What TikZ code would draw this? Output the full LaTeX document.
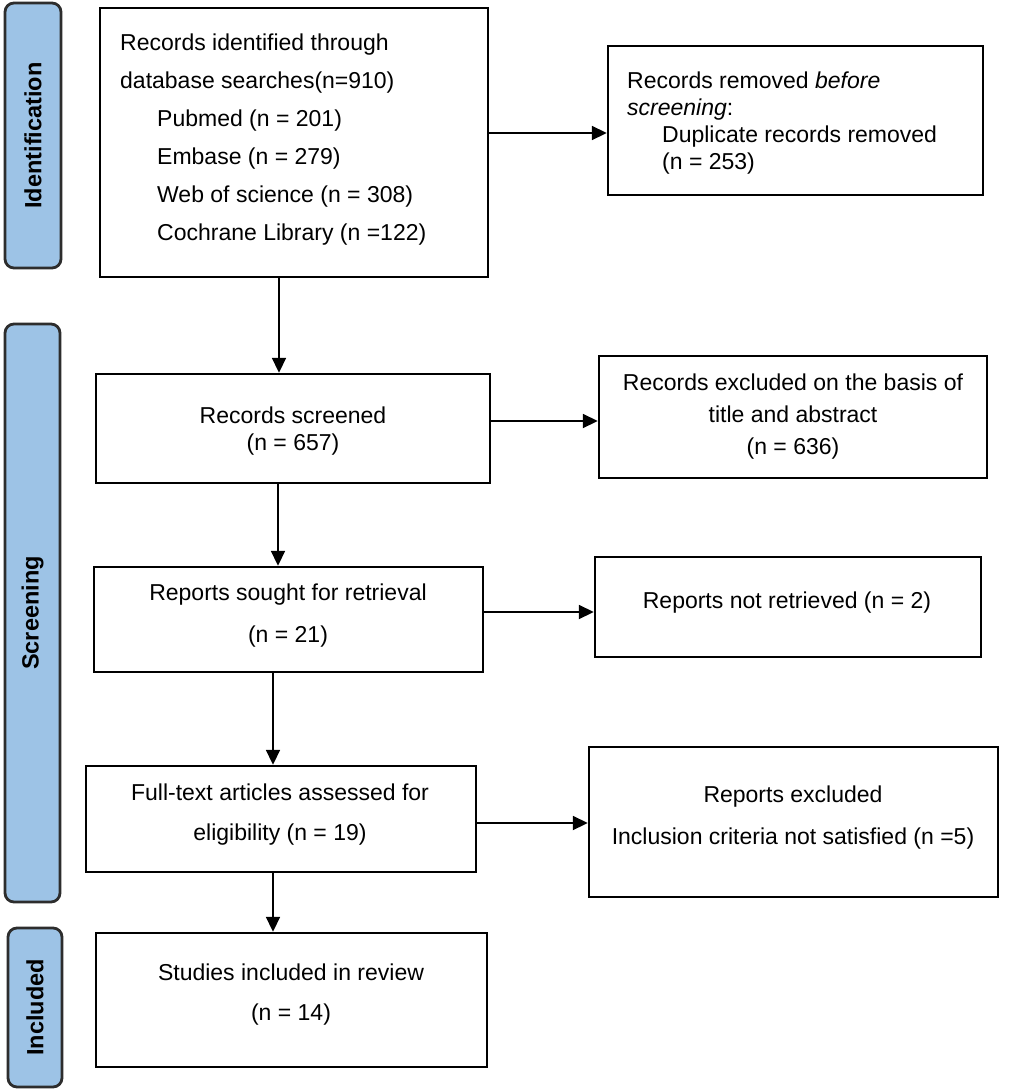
\documentclass[tikz,border=0pt]{standalone}
\usepackage{fontspec}
\setmainfont{Liberation Sans}
\usetikzlibrary{arrows.meta}
\definecolor{barfill}{RGB}{157,195,230}
\definecolor{barline}{RGB}{45,45,45}
\begin{document}
\begin{tikzpicture}[x=1pt,y=-1pt,
  box/.style={draw=black,line width=2.4pt,rectangle,inner sep=0pt},
  txt/.style={inner sep=0pt},
  phase/.style={draw=barline,fill=barfill,line width=2.8pt,rounded corners=9pt,inner sep=0pt},
  phasetxt/.style={font=\fontsize{23.5}{26}\selectfont\bfseries,rotate=90,inner sep=0pt},
  arr/.style={line width=1.8pt,-{Triangle[length=15pt,width=14pt]}}]
\useasboundingbox (0,0) rectangle (1026,1090);
\fill[white] (0,0) rectangle (1026,1090);

% phase bars
\node[phase,minimum width=56pt,minimum height=265pt] (idbar) at (33,135.5) {};
\node[phasetxt] (idtxt) at (idbar.center) {Identification};
\node[phase,minimum width=55pt,minimum height=578pt] (scbar) at (32.5,613) {};
\node[phasetxt] (sctxt) at (scbar.center) {Screening};
\node[phase,minimum width=54pt,minimum height=159pt] (inbar) at (35,1007.5) {};
\node[phasetxt] (intxt) at (inbar.center) {Included};

% boxes
\node[box,minimum width=388pt,minimum height=269pt] (b1) at (294,142.5) {};
\node[box,minimum width=375pt,minimum height=149pt] (b2) at (795.5,120.5) {};
\node[box,minimum width=394pt,minimum height=109pt] (b3) at (293,428.5) {};
\node[box,minimum width=389pt,minimum height=105pt] (b4) at (288.5,619.5) {};
\node[box,minimum width=390pt,minimum height=106pt] (b5) at (281,819) {};
\node[box,minimum width=391pt,minimum height=134pt] (b6) at (291.5,1000) {};
\node[box,minimum width=388pt,minimum height=122pt] (b7) at (793,417) {};
\node[box,minimum width=386pt,minimum height=100pt] (b8) at (788,607) {};
\node[box,minimum width=409pt,minimum height=150pt] (b9) at (793.5,822) {};

% texts
\node[txt,anchor=west,align=left,font=\fontsize{23}{38}\selectfont] (t1) at (120,139.5)
  {Records identified through\\database searches(n=910)\\\hspace*{37pt}Pubmed (n = 201)\\\hspace*{37pt}Embase (n = 279)\\\hspace*{37pt}Web of science (n = 308)\\\hspace*{37pt}Cochrane Library (n =122)};
\node[txt,anchor=west,align=left,font=\fontsize{23}{26.7}\selectfont] (t2) at (627,123)
  {Records removed \textit{before}\\\textit{screening}:\\\hspace*{35pt}Duplicate records removed\\\hspace*{35pt}(n = 253)};
\node[txt,align=center,font=\fontsize{23}{27}\selectfont] (t3) at (293,431) {Records screened\\(n = 657)};
\node[txt,align=center,font=\fontsize{23}{42}\selectfont] (t4) at (288,616) {Reports sought for retrieval\\(n = 21)};
\node[txt,align=center,font=\fontsize{23}{40}\selectfont] (t5) at (280,815) {Full-text articles assessed for\\eligibility (n = 19)};
\node[txt,align=center,font=\fontsize{23}{40}\selectfont] (t6) at (291,995) {Studies included in review\\(n = 14)};
\node[txt,align=center,font=\fontsize{23}{32}\selectfont] (t7) at (793,417) {Records excluded on the basis of\\title and abstract\\(n = 636)};
\node[txt,align=center,font=\fontsize{23}{27}\selectfont] (t8) at (787,603) {Reports not retrieved (n = 2)};
\node[txt,align=center,font=\fontsize{23}{42}\selectfont] (t9) at (793,818) {Reports excluded\\Inclusion criteria not satisfied (n =5)};

% guide coordinates
\coordinate (v1) at (279,0);
\coordinate (v2) at (278,0);
\coordinate (v3) at (273,0);
\coordinate (h1) at (0,133);
\coordinate (h2) at (0,421);
\coordinate (h3) at (0,612);
\coordinate (h4) at (0,823);

% vertical arrows
\draw[arr] (b1.south -| v1) -- (b3.north -| v1);
\draw[arr] (b3.south -| v2) -- (b4.north -| v2);
\draw[arr] (b4.south -| v3) -- (b5.north -| v3);
\draw[arr] (b5.south -| v3) -- (b6.north -| v3);
% horizontal arrows
\draw[arr] (b1.east |- h1) -- (b2.west |- h1);
\draw[arr] (b3.east |- h2) -- (b7.west |- h2);
\draw[arr] (b4.east |- h3) -- (b8.west |- h3);
\draw[arr] (b5.east |- h4) -- (b9.west |- h4);
\end{tikzpicture}
\end{document}
